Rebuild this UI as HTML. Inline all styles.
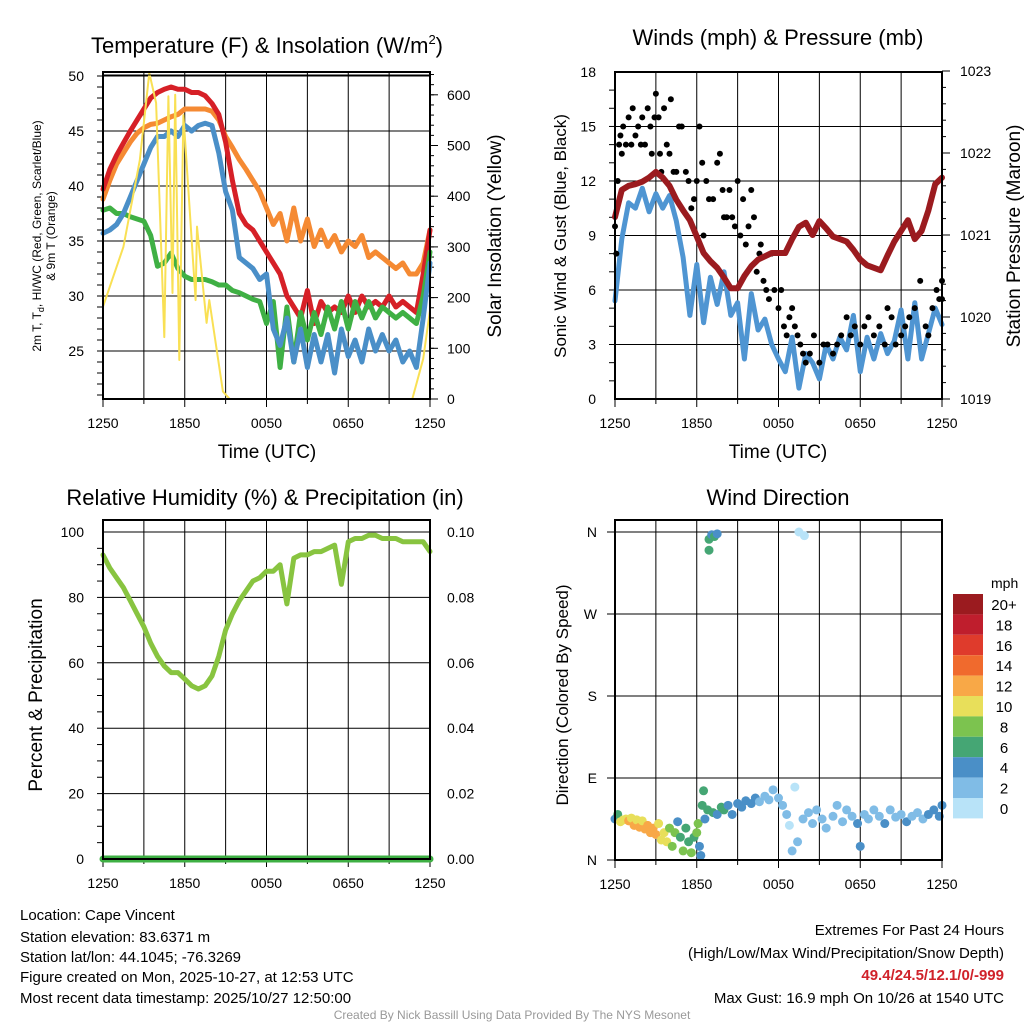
<!DOCTYPE html>
<html><head><meta charset="utf-8">
<style>
html,body{margin:0;padding:0;background:#fff;}
svg{display:block;font-family:"Liberation Sans",sans-serif;}
</style></head>
<body>
<svg id="chart" width="1024" height="1024" viewBox="0 0 1024 1024" xmlns="http://www.w3.org/2000/svg">
<g id="g-temp"></g>
<g id="g-wind"></g>
<g id="g-rh"></g>
<g id="g-dir"></g>
<text x="267" y="53" font-size="22" text-anchor="middle">Temperature (F) &amp; Insolation (W/m<tspan font-size="13" dy="-9">2</tspan><tspan dy="9">)</tspan></text>
<text x="778" y="45" font-size="22" text-anchor="middle">Winds (mph) &amp; Pressure (mb)</text>
<text x="265" y="505" font-size="22" text-anchor="middle">Relative Humidity (%) &amp; Precipitation (in)</text>
<text x="778" y="505" font-size="22" text-anchor="middle">Wind Direction</text>
<text x="267" y="458" font-size="19" text-anchor="middle">Time (UTC)</text>
<text x="778" y="458" font-size="19" text-anchor="middle">Time (UTC)</text>
<text transform="translate(41,236) rotate(-90)" font-size="12" text-anchor="middle">2m T, T<tspan font-size="9" dy="3">d</tspan><tspan dy="-3">, HI/WC (Red, Green, Scarlet/Blue)</tspan></text>
<text transform="translate(55,236) rotate(-90)" font-size="12" text-anchor="middle">&amp; 9m T (Orange)</text>
<text transform="translate(501,236) rotate(-90)" font-size="19" text-anchor="middle">Solar Insolation (Yellow)</text>
<text transform="translate(566,236) rotate(-90)" font-size="17" text-anchor="middle">Sonic Wind &amp; Gust (Blue, Black)</text>
<text transform="translate(1020,236) rotate(-90)" font-size="19" text-anchor="middle">Station Pressure (Maroon)</text>
<text transform="translate(42,695) rotate(-90)" font-size="19" text-anchor="middle">Percent &amp; Precipitation</text>
<text transform="translate(568,695) rotate(-90)" font-size="17" text-anchor="middle">Direction (Colored By Speed)</text>
<g font-size="15">
<text x="20" y="920">Location: Cape Vincent</text>
<text x="20" y="942">Station elevation: 83.6371 m</text>
<text x="20" y="962">Station lat/lon: 44.1045; -76.3269</text>
<text x="20" y="982">Figure created on Mon, 2025-10-27, at 12:53 UTC</text>
<text x="20" y="1003">Most recent data timestamp: 2025/10/27 12:50:00</text>
</g>
<g font-size="15" text-anchor="end">
<text x="1004" y="935">Extremes For Past 24 Hours</text>
<text x="1004" y="958">(High/Low/Max Wind/Precipitation/Snow Depth)</text>
<text x="1004" y="980" fill="#d0222a" font-weight="bold">49.4/24.5/12.1/0/-999</text>
<text x="1004" y="1003">Max Gust: 16.9 mph On 10/26 at 1540 UTC</text>
</g>
<text x="512" y="1019" font-size="12" fill="#999" text-anchor="middle">Created By Nick Bassill Using Data Provided By The NYS Mesonet</text>
</svg>
<script>
const hours = [0,0.5,1,1.5,2,2.5,3,3.5,4,4.5,5,5.5,6,6.5,7,7.5,8,8.5,9,9.5,10,10.5,11,11.5,12,12.5,13,13.5,14,14.5,15,15.5,16,16.5,17,17.5,18,18.5,19,19.5,20,20.5,21,21.5,22,22.5,23,23.5,24];
const tempRed = [39.7,41.5,42.8,43.9,45,46,47,48,48.5,48.8,49,48.8,48.8,48.5,48.5,48.2,47.5,46.5,44,40.5,37.5,36.5,36,35,34,33,32,30,29,28,30.5,27.5,29.5,28.5,29,28.5,30,28.5,30,29,29.5,29,30,29,29.5,29,28.5,32,36];
const tempBlue = [35.7,36,36.5,37.5,39,40.5,42,43.5,44.5,44.5,45,44.5,45.5,45,45.5,45.7,45.5,43,39.5,37.8,33.5,33,32.5,31.5,32,27,25.5,28,24,27,23.5,26.5,24,26.5,23,27,24.5,26,24,27,25,26.5,25,26,24,25,23.5,28,33];
const tempGreen = [37.8,38,37.5,37.5,37.2,37,36.8,35.5,32.7,33,33.9,32.5,31.8,31.5,31.5,31.5,31.3,31,31,30.5,30.3,30,29.7,29.5,27.5,29.5,23.5,29,24,28.5,26,28.5,26.5,29,27,29.5,27,29.5,28,29.5,28,29,28.5,28,28.5,28,27.5,30,34];
const tempOrange = [38.8,40.5,42,43,44,44.8,45.3,45.6,45.7,46,46.3,46.5,47,47,47,47,46.8,46,44.5,43.5,42.4,41.5,40.5,39.5,38,36.5,37.5,35,38,35,37,34.5,36,34.5,35.5,34,35,34.5,35.5,33.5,34,33.5,33,32.5,33,32,32,33,36];
const solarHours = [0,1.5,2.7,3.4,3.9,4.5,4.8,5.1,5.3,5.6,5.9,6.3,6.8,6.9,7.6,7.8,8.8,9.3,22.7,23.5,24];
const solar = [182,300,471,643,584,122,597,209,600,77,560,400,195,340,150,195,15,0,0,79,175];
const windSpd = [5.4,8.8,10.8,10.5,11.6,10.3,11.3,10.5,11.2,9.8,7.8,4.6,7.4,4.2,6.7,5.2,7,4.6,5.3,2.2,5.8,3.8,4.4,3,2.2,1.5,3.4,0.6,2.5,2,1.1,3,2.2,3.4,2.7,4.6,1.5,3.4,2.2,3.6,2.5,3.2,4.9,2.2,5.3,2.2,3.6,5,4.1];
const pressure = [1021.22,1021.55,1021.6,1021.62,1021.65,1021.7,1021.77,1021.7,1021.6,1021.43,1021.3,1021.18,1020.98,1020.78,1020.68,1020.6,1020.48,1020.35,1020.35,1020.5,1020.62,1020.7,1020.74,1020.78,1020.78,1020.78,1020.95,1021.1,1021.15,1021.0,1021.17,1021.08,1020.98,1020.95,1020.92,1020.82,1020.7,1020.63,1020.6,1020.57,1020.75,1020.92,1021.05,1021.18,1020.95,1021.05,1021.3,1021.62,1021.7];
const rh = [93,89,86,83,79,75,71,66,62,59,57,57,55,53,52,53,56,62,70,75,79,82,85,86,88,88,90,78,92,93,93,94,94,95,96,84,97,98,98,99,99,98,98,98,97,97,97,97,94];
const precip = [0,0,0,0,0,0,0,0,0,0,0,0,0,0,0,0,0,0,0,0,0,0,0,0,0,0,0,0,0,0,0,0,0,0,0,0,0,0,0,0,0,0,0,0,0,0,0,0,0];
const gustHours = [0,0.1,0.2,0.3,0.4,0.5,0.6,0.8,1,1.2,1.3,1.5,1.7,1.9,2,2.2,2.4,2.6,2.7,2.9,3,3.2,3.3,3.4,3.6,3.8,4,4.1,4.3,4.5,4.7,4.9,5.2,5.4,5.6,5.8,6,6.2,6.4,6.5,6.7,6.9,7.2,7.5,7.7,7.9,8,8.2,8.4,8.6,8.8,9,9.2,9.4,9.6,9.8,10,10.2,10.4,10.6,10.7,10.9,11.1,11.3,11.5,11.7,12,12.2,12.4,12.6,12.8,13,13.2,13.4,13.6,13.8,14,14.3,14.6,15,15.3,15.6,16,16.3,16.6,17,17.3,17.6,18,18.3,18.6,19,19.4,19.8,20,20.3,20.6,21,21.3,21.6,22,22.4,22.8,23,23.3,23.6,23.8,24,24];
const gustVals = [9.5,8,12,14,14.5,13.5,15,14,15.5,14,16,14.5,15,14,15.5,14,16,15,13.5,15.5,16.8,15.5,13.5,12.5,16,14,13.5,16.5,12.5,12.5,15,15,12.5,12,10.5,11,12,15,13,9,12,11,11,13,13.5,11.5,10,10,11.5,10,9.5,12,9,11,8.5,9.5,11.5,10,7,8,8.5,6.5,6,5.5,8,6,5,6,4,3.5,4.5,5,4,3.5,3,2.5,2,2.5,3.5,2,3,3,2.5,3,3.5,4.5,3.5,4,3,4,4.5,3.5,4,3,5,4.5,3,3.5,4,4.5,5,6.5,4,3.5,5,6,5.5,5.5,6.5];
const dirHours = [0,0.2,0.4,0.6,0.8,1,1.2,1.4,1.6,1.8,2,2.2,2.4,2.6,2.8,3,3.2,3.4,3.6,3.8,4,4.2,4.4,4.6,4.8,5,5.2,5.4,5.6,5.8,6,6.1,6.2,6.3,6.4,6.5,6.6,6.8,6.9,6.9,7.1,7.3,7.5,7.2,7.5,7.8,8,8.3,8.6,9,9.3,9.6,10,10.3,10.6,11,11.3,11.6,12,12.3,12.6,12.8,13,13.2,13.4,13.5,13.9,13.8,14.2,14.5,14.8,15.2,15.5,16,16.3,16.7,17,17.4,17.8,18,18.3,18.6,19,19.4,19.8,20.2,20.6,21,21.4,21.8,22.2,22.6,23,23.4,23.8,24];
const dirDeg = [45,50,42,44,45,43,46,38,44,36,43,34,38,30,35,28,40,22,30,20,35,15,30,42,25,10,35,20,8,25,30,40,15,5,60,76,45,55,340,352,357,355,358,52,50,58,55,60,50,62,58,65,62,68,64,70,66,77,68,60,50,38,10,80,20,360,356,45,52,40,55,45,35,48,60,42,55,48,40,15,50,45,55,48,40,55,47,50,42,48,52,45,50,55,48,60];
const dirSpd = [4,6,10,10,10,11,10,12,10,12,10,12,12,12,11,12,10,10,10,9,7,8,8,4,6,8,6,5,8,6,8,8,4,4,6,6,4,6,6,6,4,5,4,6,4,6,6,4,4,4,4,4,4,4,2,2,2,2,2,2,2,0,2,0,2,0,0,2,2,2,2,2,2,2,2,2,2,2,4,4,2,2,2,2,4,2,2,2,4,2,2,2,4,4,4,4];
const cbLabels = ["20+","18","16","14","12","10","8","6","4","2","0"];
const cbColors = ["#9b1b1f","#bf1e2d","#df3b2c","#f06a2d","#f8a847","#e8df5a","#7cc34f","#45a674","#4a8fc7","#80bce6","#b8e3f8"];

const NS='http://www.w3.org/2000/svg';
function mk(parent,tag,attrs){const e=document.createElementNS(NS,tag);for(const k in attrs)e.setAttribute(k,attrs[k]);parent.appendChild(e);return e;}
function txt(parent,x,y,s,size,anchor){const t=mk(parent,'text',{x:x,y:y,'font-size':size,'text-anchor':anchor});t.textContent=s;return t;}

function xTemp(h){return 103+h*13.625;}
function xWind(h){return 615+h*13.625;}
function yTemp(v){return 76+(50-v)*11;}
function ySolar(v){return 399-v*0.507;}
function yWind(v){return 399-v*18.17;}
function yPres(v){return 399-(v-1019)*82;}
function yRH(v){return 859-v*3.27;}
function yPrecip(v){return 859-v*3270;}
function yDir(d){return 860-d*82/90;}
const xTickLabels=["1250","1850","0050","0650","1250"];

function frame(g,x0,x1,y0,y1,xf){
  for(let h=3;h<24;h+=3){const x=xf(h);const l=mk(g,'line',{x1:x,x2:x,y1:y0,y2:y1,stroke:'#000','stroke-width':1});
  
  }
  for(let i=0;i<5;i++){const x=xf(i*6);const t=txt(g,x,y1+29,xTickLabels[i],14,'middle');
  
  
  mk(g,'line',{x1:x,x2:x,y1:y1,y2:y1+8,stroke:'#000'});}
  for(let h=3;h<24;h+=6){const x=xf(h);mk(g,'line',{x1:x,x2:x,y1:y1,y2:y1+5,stroke:'#000'});}
}
function box(g,x0,x1,y0,y1){const r=mk(g,'rect',{x:x0,y:y0,width:x1-x0,height:y1-y0,fill:'none',stroke:'#000','stroke-width':2});

}
function hgrid(g,x0,x1,y){mk(g,'line',{x1:x0,x2:x1,y1:y,y2:y,stroke:'#000','stroke-width':1});}
function path(g,xs,ys,xf,yf,color,w){let d='';for(let i=0;i<xs.length;i++)d+=(i?'L':'M')+xf(xs[i]).toFixed(1)+','+yf(ys[i]).toFixed(1);
  return mk(g,'path',{d:d,fill:'none',stroke:color,'stroke-width':w,'stroke-linejoin':'round','stroke-linecap':'round'});}

(function(){
  const g=document.getElementById('g-temp');
  frame(g,103,430,72,399,xTemp);
  for(let v=25;v<=50;v+=5){hgrid(g,103,430,yTemp(v));const t=txt(g,84,yTemp(v)+5,String(v),14,'end');
  
  }
  for(let v=21;v<=50;v++){mk(g,'line',{x1:97,x2:103,y1:yTemp(v),y2:yTemp(v),stroke:'#000'});}
  for(let v=0;v<=600;v+=100){const t=txt(g,447,ySolar(v)+5,String(v),14,'start');
  
  
  mk(g,'line',{x1:430,x2:438,y1:ySolar(v),y2:ySolar(v),stroke:'#000'});}
  for(let v=20;v<=640;v+=20){mk(g,'line',{x1:430,x2:434,y1:ySolar(v),y2:ySolar(v),stroke:'#000'});}
  let p;
  p=path(g,hours,tempOrange,xTemp,yTemp,'#f58a33',5);
  
  
  p=path(g,hours,tempRed,xTemp,yTemp,'#d62027',5);
  
  
  p=path(g,hours,tempGreen,xTemp,yTemp,'#3fb044',5);
  
  
  p=path(g,hours,tempBlue,xTemp,yTemp,'#4a8fc8',5);
  
  
  p=path(g,solarHours,solar,xTemp,ySolar,'#f9e054',2);
  
  
  mk(g,'line',{x1:103,x2:430,y1:75,y2:75,stroke:'#000'});
  box(g,103,430,72,399);
})();

(function(){
  const g=document.getElementById('g-wind');
  frame(g,615,942,72,399,xWind);
  for(let v=0;v<=18;v+=3){hgrid(g,615,942,yWind(v));const t=txt(g,596,yWind(v)+5,String(v),14,'end');
  
  }
  for(let v=1;v<18;v++){mk(g,'line',{x1:609,x2:615,y1:yWind(v),y2:yWind(v),stroke:'#000'});}
  for(let v=1019;v<=1023;v++){const t=txt(g,960,yPres(v)+5,String(v),14,'start');
  
  
  mk(g,'line',{x1:942,x2:950,y1:yPres(v),y2:yPres(v),stroke:'#000'});}
  for(let v=1019.2;v<1023;v+=0.2){mk(g,'line',{x1:942,x2:946,y1:yPres(v),y2:yPres(v),stroke:'#000'});}
  let p=path(g,hours,windSpd,xWind,yWind,'#4f95d2',5);
  
  
  for(let i=0;i<gustHours.length;i++){const c=mk(g,'circle',{cx:xWind(gustHours[i]),cy:yWind(gustVals[i]),r:3,fill:'#000'});
  
  }
  p=path(g,hours,pressure,xWind,yPres,'#9b1b1f',6);
  
  
  box(g,615,942,72,399);
})();

(function(){
  const g=document.getElementById('g-rh');
  frame(g,103,430,520,859,xTemp);
  for(let v=0;v<=100;v+=20){hgrid(g,103,430,yRH(v));const t=txt(g,84,yRH(v)+5,String(v),14,'end');
  
  }
  for(let v=5;v<100;v+=5){mk(g,'line',{x1:97,x2:103,y1:yRH(v),y2:yRH(v),stroke:'#000'});}
  const pl=["0.00","0.02","0.04","0.06","0.08","0.10"];
  for(let i=0;i<6;i++){const t=txt(g,447,yPrecip(i*0.02)+5,pl[i],14,'start');
  
  }
  let p=path(g,hours,rh,xTemp,yRH,'#88c440',5);
  
  
  p=path(g,hours,precip,xTemp,yPrecip,'#3fb044',7);
  
  
  box(g,103,430,520,859);
})();

(function(){
  const g=document.getElementById('g-dir');
  frame(g,615,942,520,860,xWind);
  const dl=["N","E","S","W","N"];
  for(let i=0;i<5;i++){const y=yDir(i*90);hgrid(g,607,942,y);const t=txt(g,597,y+5,dl[i],14,'end');
  
  }
  function col(s){let idx=Math.min(10,Math.floor((s+1)/2));return cbColors[10-idx];}
  for(let i=0;i<dirHours.length;i++){const c=mk(g,'circle',{cx:xWind(dirHours[i]),cy:yDir(dirDeg[i]),r:4.5,fill:col(dirSpd[i])});
  
  }
  box(g,615,942,520,860);
  const lg=mk(g,'g',{});
  
  
  txt(lg,991,588,'mph',14,'start');
  for(let i=0;i<cbColors.length;i++){const y=594+i*20.4;mk(lg,'rect',{x:953,y:y,width:30,height:20.4,fill:cbColors[i]});
  const t=txt(lg,1004,y+16,cbLabels[i],15,'middle');
  
  }
})();
</script>
</body></html>
